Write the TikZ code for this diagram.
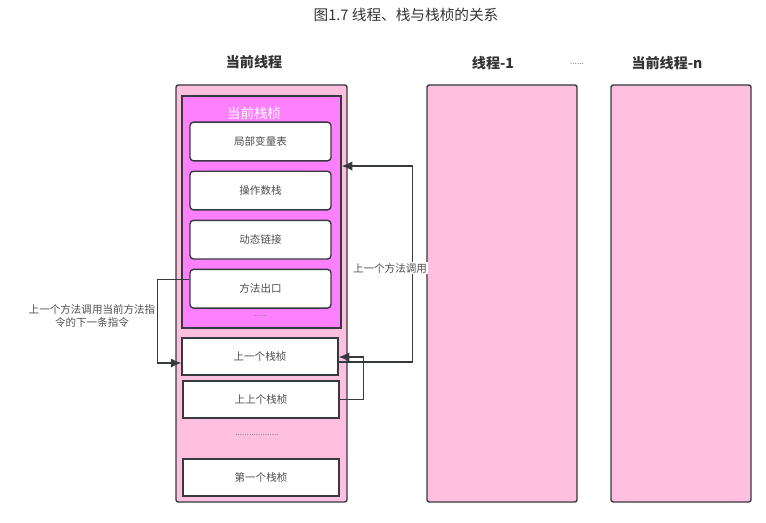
\documentclass[tikz,border=0pt]{standalone}
\usepackage{fontspec}
\setmainfont{Noto Sans CJK SC}
\usetikzlibrary{arrows.meta, positioning, calc}
\definecolor{threadpink}{HTML}{FFC0DF}
\definecolor{framemagenta}{HTML}{FF80FF}
\definecolor{edgegray}{HTML}{36393D}
\definecolor{headgray}{HTML}{333333}
\definecolor{textgray}{HTML}{4D4D4D}

\begin{document}
\begin{tikzpicture}[x=0.03cm, y=-0.03cm, >={Latex[length=9pt,width=8pt]},
        thread/.style={rectangle, draw=edgegray, line width=1.2pt, rounded corners=2pt, fill=threadpink, minimum height=12.51cm},
        curframe/.style={rectangle, draw=edgegray, line width=1.2pt, fill=framemagenta, minimum width=4.77cm, minimum height=6.96cm},
        slot/.style={rectangle, draw=edgegray, line width=1.2pt, rounded corners=3pt, fill=white, minimum width=4.23cm, minimum height=1.16cm, font=\small, text=textgray},
        stackframe/.style={rectangle, draw=edgegray, line width=1.2pt, fill=white, minimum width=4.68cm, minimum height=1.11cm, font=\small, text=textgray},
        header/.style={font=\large\bfseries, text=headgray},
        link/.style={->, draw=edgegray, line width=1.1pt},
        dots/.style={font=\scriptsize, text=gray}]

        \useasboundingbox (0,0) rectangle (766,522);

        \node (title) [font=\fontsize{12.5}{14}\selectfont, text=headgray] at (406,15) {图1.7 线程、栈与栈桢的关系};

        % Threads
        \node (curthread) [thread, minimum width=5.13cm] at (261.5,293.5) {};
        \node (thread1) [thread, minimum width=4.5cm] at (502,293.5) {};
        \node (threadn) [thread, minimum width=4.2cm] at (681,293.5) {};
        \node (curthread_lbl) [header] at (254,62) {当前线程};
        \node (thread1_lbl) [header] at (493,63) {线程-1};
        \node (threadn_lbl) [header] at (667,63) {当前线程-n};
        \node (thread_dots) [dots] at (577,64) {......};

        % Current frame
        \node (curframe) [curframe] at (261.5,212) {};
        \node (curframe_lbl) [text=white, font=\fontsize{11.5}{13}\selectfont] at (254,113) {当前栈桢};
        \node (locals) [slot] at (260.5,141.5) {局部变量表};
        \node (operand) [slot, below=0.27cm of locals] {操作数栈};
        \node (dynlink) [slot, below=0.27cm of operand] {动态链接};
        \node (retaddr) [slot, below=0.27cm of dynlink] {方法出口};
        \node (slot_dots) [dots] at (261,316) {......};

        % Older frames
        \node (prev) [stackframe] at (260,356.5) {上一个栈桢};
        \node (prevprev) [stackframe] at (261,399.5) {上上个栈桢};
        \node (frame_dots) [dots] at (257,435) {...................};
        \node (first) [stackframe] at (261,477.5) {第一个栈桢};

        % Return path
        \draw [link] ($(retaddr.west)+(0,-9)$) -- ++(-32,0) |- ($(prev.west)+(0,6.5)$);
        \node (ret_lbl) [font=\small, text=textgray, align=center] at (92,316) {上一个方法调用当前方法指\\令的下一条指令};

        % Calls
        \draw [link] ($(prev.east)+(0,5.5)$) -- ++(74,0) |- ($(curframe.east)+(0,-46)$);
        \node (call_lbl) [font=\small, text=textgray, fill=white, inner sep=1pt] at (390,268) {上一个方法调用};
        \draw [link] (prevprev.east) -- ++(24,0) |- ($(prev.east)+(0,0.5)$);

    \end{tikzpicture}
\end{document}
